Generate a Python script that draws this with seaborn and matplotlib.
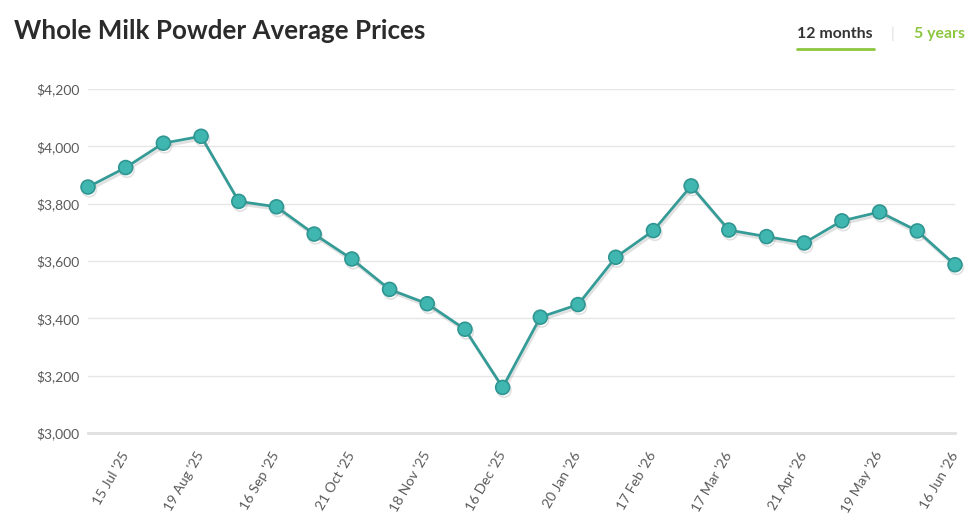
import matplotlib
matplotlib.use('Agg')
import matplotlib.pyplot as plt
import matplotlib.patheffects as pe
import matplotlib.ticker as mticker
import pandas as pd
import seaborn as sns

# auction dates (two a month) and average prices, USD/t
dates = ["1 Jul '25", "15 Jul '25", "5 Aug '25", "19 Aug '25", "2 Sep '25", "16 Sep '25",
         "7 Oct '25", "21 Oct '25", "4 Nov '25", "18 Nov '25", "2 Dec '25", "16 Dec '25",
         "6 Jan '26", "20 Jan '26", "3 Feb '26", "17 Feb '26", "3 Mar '26", "17 Mar '26",
         "7 Apr '26", "21 Apr '26", "5 May '26", "19 May '26", "2 Jun '26", "16 Jun '26"]
prices = [3858, 3926, 4011, 4035, 3808, 3789, 3694, 3607, 3501, 3451, 3362, 3159,
          3404, 3448, 3613, 3706, 3862, 3708, 3685, 3663, 3740, 3771, 3705, 3587]
y_ticks = [3000, 3200, 3400, 3600, 3800, 4000, 4200]

df = pd.DataFrame({"pos": range(len(dates)), "date": dates, "price": prices})

sns.set_theme(style="white")
plt.rcParams['font.family'] = ['Lato', 'DejaVu Sans']

fig = plt.figure(figsize=(9.77, 5.32), dpi=100)
ax = fig.add_axes([88 / 977, 1 - 433 / 532, (955 - 88) / 977, (433 - 89) / 532])

sns.lineplot(data=df, x="pos", y="price", ax=ax, color="#359b97", linewidth=2,
             marker="o", markersize=10, markerfacecolor="#40b6b1",
             markeredgecolor="#2f9692", markeredgewidth=1.2,
             path_effects=[pe.SimpleLineShadow(offset=(1, -2), shadow_color="#8a8a8a", alpha=0.25),
                           pe.Normal()],
             zorder=5, clip_on=False)

ax.set_xlim(0, len(dates) - 1)
ax.set_ylim(y_ticks[0], y_ticks[-1])
ax.set_yticks(y_ticks)
ax.yaxis.set_major_formatter(mticker.FuncFormatter(lambda v, p: f"${v:,.0f}"))
ax.grid(axis="y", color="#e6e6e6", linewidth=1)
ax.set_axisbelow(True)
for s in ["left", "right", "top"]:
    ax.spines[s].set_visible(False)
ax.spines["bottom"].set_color("#e0e0e0")
ax.spines["bottom"].set_linewidth(2)

ax.set_xticks(df["pos"][1::2])
ax.set_xticklabels(df["date"][1::2], rotation=60, ha="right", va="center",
                   rotation_mode="anchor")
ax.tick_params(axis="x", length=0, pad=14, labelsize=10, labelcolor="#5a5a5a")
ax.tick_params(axis="y", length=0, pad=6, labelsize=10, labelcolor="#5a5a5a")
ax.set_xlabel("")
ax.set_ylabel("")

fig.text(14 / 977, 1 - 31 / 532, "Whole Milk Powder Average Prices", fontsize=18.7,
         fontweight="bold", color="#2b2b2b", va="center", ha="left")
fig.text(797 / 977, 1 - 34 / 532, "12 months", fontsize=11.4, fontweight="bold",
         color="#333333", va="center", ha="left")
fig.add_artist(matplotlib.lines.Line2D([797 / 977, 874 / 977], [1 - 49 / 532] * 2,
                                       color="#8cc63f", linewidth=2))
fig.text(893 / 977, 1 - 34 / 532, "|", fontsize=11, color="#dddddd", va="center", ha="center")
fig.text(914 / 977, 1 - 34 / 532, "5 years", fontsize=11.4, fontweight="bold",
         color="#8cc63f", va="center", ha="left")

plt.savefig("out.png", dpi=100)
